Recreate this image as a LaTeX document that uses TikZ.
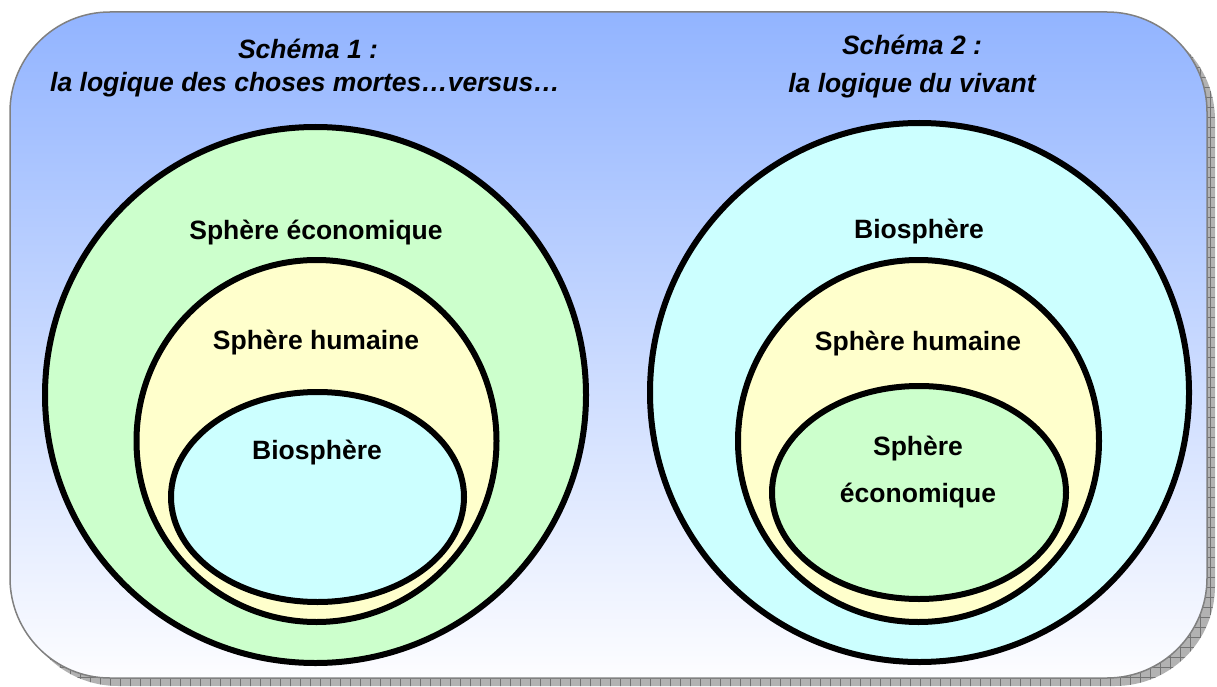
\documentclass[tikz,border=0pt]{standalone}
\usepackage{fontspec}
\setmainfont{Liberation Sans}
\usetikzlibrary{shapes.geometric,patterns.meta}
\definecolor{bgtop}{RGB}{146,180,255}
\definecolor{bgmid}{RGB}{205,218,255}
\definecolor{bgbot}{RGB}{253,253,255}
\definecolor{ecogreen}{RGB}{204,255,204}
\definecolor{humyellow}{RGB}{255,255,204}
\definecolor{biocyan}{RGB}{204,255,255}
\definecolor{framegray}{RGB}{128,128,128}
\tikzset{
  sphere/.style={ellipse, draw=black, line width=6pt, inner sep=0pt, outer sep=0pt},
  lbl/.style={anchor=base, inner sep=0pt, font=\fontsize{26.5}{32}\selectfont\bfseries},
  ttl/.style={anchor=base, inner sep=0pt, font=\fontsize{26.5}{32}\selectfont\bfseries\itshape},
}
\begin{document}
\begin{tikzpicture}[x=1pt,y=-1pt]
\useasboundingbox (0,0) rectangle (1217,687);
% shadow
\fill[gray!60, rounded corners=100pt] (18,20) rectangle (1215,686);
\fill[pattern={Hatch[angle=0,distance=10pt,line width=0.6pt]}, pattern color=black!55, rounded corners=100pt] (18,20) rectangle (1215,686);
% background panel
\shade[top color=bgtop, middle color=bgmid, bottom color=bgbot, rounded corners=100pt] (10,12) rectangle (1207,678);
\draw[framegray, line width=1.5pt, rounded corners=100pt] (10,12) rectangle (1207,678);
% titles
\node[ttl] (t1a) at (308,59) {Schéma 1 :};
\node[ttl] (t1b) at (305,92) {la logique des choses mortes…versus…};
\node[ttl] (t2a) at (912,55) {Schéma 2 :};
\node[ttl] (t2b) at (912,93) {la logique du vivant};
% schema 1
\node[sphere, fill=ecogreen, minimum width=541pt, minimum height=536pt] (L1) at (315.5,395) {};
\node[sphere, fill=humyellow, minimum width=360pt, minimum height=362pt] (L2) at (316.5,441) {};
\node[sphere, fill=biocyan, minimum width=293pt, minimum height=210pt] (L3) at (317.5,497) {};
\node[lbl] (L1t) at (316,239) {Sphère économique};
\node[lbl] (L2t) at (316,349) {Sphère humaine};
\node[lbl] (L3t) at (317,459) {Biosphère};
% schema 2
\node[sphere, fill=biocyan, minimum width=539pt, minimum height=539pt] (R1) at (919.5,392.5) {};
\node[sphere, fill=humyellow, minimum width=361pt, minimum height=362pt] (R2) at (918.5,441) {};
\node[sphere, fill=ecogreen, minimum width=294pt, minimum height=213pt] (R3) at (919,492.5) {};
\node[lbl] (R1t) at (919,238) {Biosphère};
\node[lbl] (R2t) at (918,350) {Sphère humaine};
\node[lbl] (R3t) at (918,455) {Sphère};
\node[lbl] (R3u) at (918,502) {économique};
\end{tikzpicture}
\end{document}
